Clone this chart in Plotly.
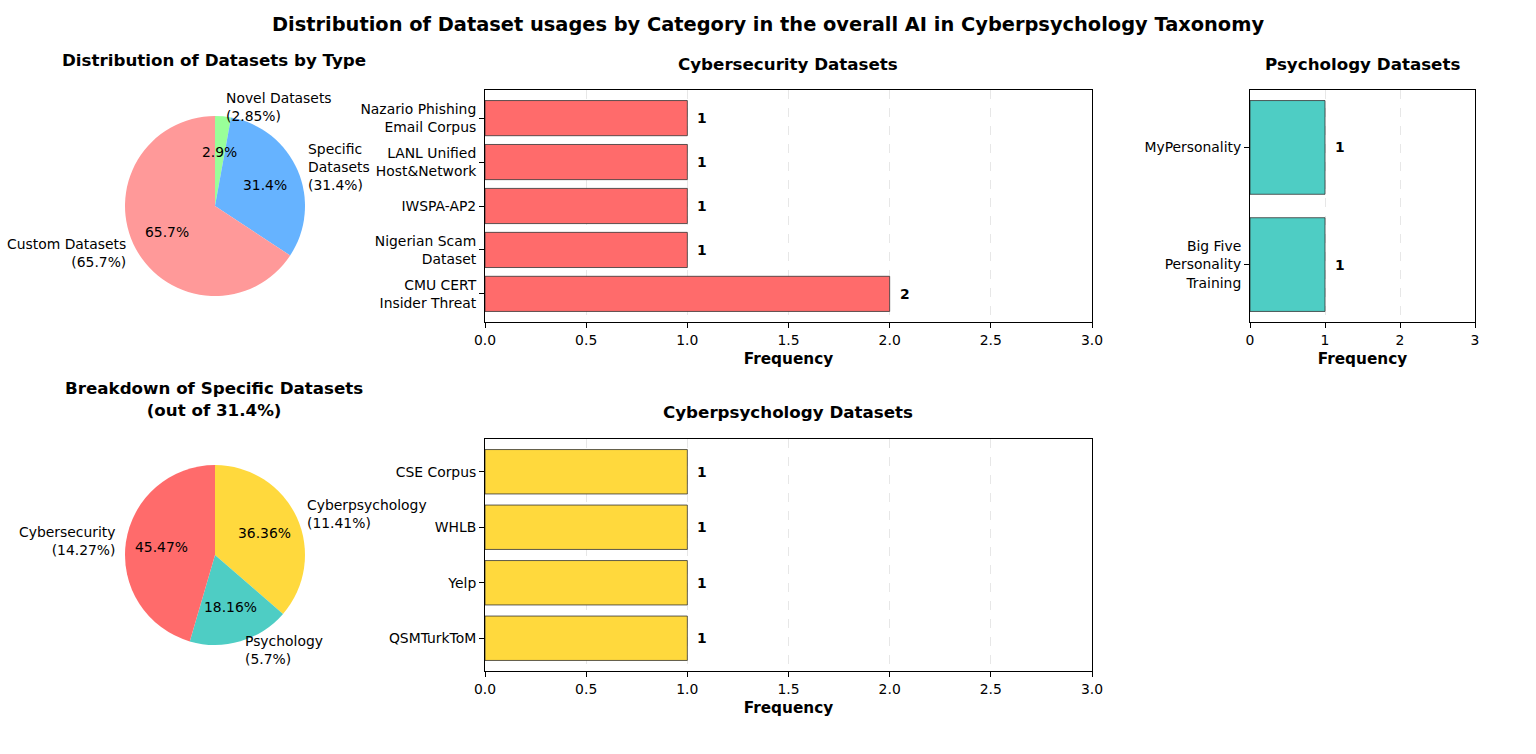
import math
import plotly.graph_objects as go

# ---------------- data ----------------
type_labels = ["Custom Datasets", "Specific Datasets", "Novel Datasets"]
type_values = [65.7, 31.4, 2.85]
type_label_text = ["Custom Datasets<br>(65.7%)", "Specific<br>Datasets<br>(31.4%)", "Novel Datasets<br>(2.85%)"]
type_colors = ["#ff9999", "#66b3ff", "#99ff99"]

spec_labels = ["Cybersecurity", "Psychology", "Cyberpsychology"]
spec_values = [14.27, 5.7, 11.41]
spec_label_text = ["Cybersecurity<br>(14.27%)", "Psychology<br>(5.7%)", "Cyberpsychology<br>(11.41%)"]
spec_colors = ["#ff6b6b", "#4ecdc4", "#ffd93d"]

cyber_names = ["CMU CERT<br>Insider Threat", "Nigerian Scam<br>Dataset", "IWSPA-AP2",
               "LANL Unified<br>Host&Network", "Nazario Phishing<br>Email Corpus"]
cyber_counts = [2, 1, 1, 1, 1]

psych_names = ["Big Five<br>Personality<br>Training", "MyPersonality"]
psych_counts = [1, 1]

cyberpsych_names = ["QSMTurkToM", "Yelp", "WHLB", "CSE Corpus"]
cyberpsych_counts = [1, 1, 1, 1]

# ---------------- layout constants ----------------
W, H = 1536, 754
FONT = "DejaVu Sans"

def px_x(x):
    return x / W

def px_y(y):
    return 1 - y / H

fig = go.Figure()
annotations = []

def add_pie(labels, values, colors, label_text, cx, cy, r, pct_fmt):
    # matplotlib-style: counter-clockwise from 12 o'clock == clockwise with reversed order
    fig.add_trace(go.Pie(
        labels=labels[::-1], values=values[::-1],
        marker=dict(colors=colors[::-1], line=dict(width=0)),
        sort=False, direction="clockwise", rotation=0,
        textinfo="none", hoverinfo="label+percent", showlegend=False,
        domain=dict(x=[px_x(cx - r), px_x(cx + r)], y=[px_y(cy + r), px_y(cy - r)]),
    ))
    total = sum(values)
    start = 90.0
    for v, lt in zip(values, label_text):
        span = 360.0 * v / total
        mid = math.radians(start + span / 2)
        start += span
        c, s = math.cos(mid), math.sin(mid)
        lx, ly = cx + 1.1 * r * c, cy - 1.1 * r * s
        annotations.append(dict(
            x=px_x(lx), y=px_y(ly), xref="paper", yref="paper", text=lt,
            showarrow=False, xanchor="left" if c > 0 else "right", yanchor="middle",
            align="left" if c > 0 else "right",
            font=dict(family=FONT, size=13.9, color="black")))
        px_, py_ = cx + 0.6 * r * c, cy - 0.6 * r * s
        annotations.append(dict(
            x=px_x(px_), y=px_y(py_), xref="paper", yref="paper",
            text=pct_fmt.format(100.0 * v / total), showarrow=False,
            xanchor="center", yanchor="middle",
            font=dict(family=FONT, size=13.9, color="black")))

add_pie(type_labels, type_values, type_colors, type_label_text, 215, 206, 90, "{:.1f}%")
add_pie(spec_labels, spec_values, spec_colors, spec_label_text, 215, 555, 90, "{:.2f}%")

def add_bars(names, counts, color, axn, xdom, ydom, dtick, tickfmt, yrange):
    xa = "x" if axn == 1 else f"x{axn}"
    ya = "y" if axn == 1 else f"y{axn}"
    fig.add_trace(go.Bar(
        x=counts, y=names, orientation="h", width=0.8,
        marker=dict(color=color, line=dict(color="#333333", width=0.8)),
        xaxis=xa, yaxis=ya, showlegend=False, hoverinfo="x+y"))
    for n, c in zip(names, counts):
        annotations.append(dict(
            x=c, y=n, xref=xa, yref=ya, text=f"<b>{c}</b>", showarrow=False,
            xanchor="left", yanchor="middle", xshift=8,
            font=dict(family=FONT, size=13.9, color="black")))
    axis_common = dict(showline=True, mirror=True, linecolor="black", linewidth=1,
                       ticks="outside", ticklen=5, tickcolor="black", tickwidth=1,
                       tickfont=dict(family=FONT, size=13.9, color="black"),
                       zeroline=False, automargin=False)
    fig.update_layout(**{
        ("xaxis" if axn == 1 else f"xaxis{axn}"): dict(
            domain=xdom, anchor=ya, range=[0, 3], dtick=dtick, tick0=0, tickformat=tickfmt,
            showgrid=True, gridcolor="rgba(176,176,176,0.3)", griddash="dash", gridwidth=1,
            title=dict(text="<b>Frequency</b>", standoff=6,
                       font=dict(family=FONT, size=15.3, color="black")),
            **axis_common),
        ("yaxis" if axn == 1 else f"yaxis{axn}"): dict(
            domain=ydom, anchor=xa, range=yrange, showgrid=False, type="category",
            **axis_common),
    })

add_bars(cyber_names, cyber_counts, "#ff6b6b", 1,
         [px_x(485), px_x(1092)], [px_y(322), px_y(90)], 0.5, ".1f", [-0.64, 4.64])
add_bars(psych_names, psych_counts, "#4ecdc4", 2,
         [px_x(1250), px_x(1475)], [px_y(322), px_y(90)], 1, "d", [-0.49, 1.49])
add_bars(cyberpsych_names, cyberpsych_counts, "#ffd93d", 3,
         [px_x(485), px_x(1092)], [px_y(671), px_y(439)], 0.5, ".1f", [-0.59, 3.59])

titles = [
    ("<b>Distribution of Datasets by Type</b>", 214, 60),
    ("<b>Cybersecurity Datasets</b>", 788, 64),
    ("<b>Psychology Datasets</b>", 1362, 64),
    ("<b>Breakdown of Specific Datasets</b><br><b>(out of 31.4%)</b>", 214, 399),
    ("<b>Cyberpsychology Datasets</b>", 788, 412),
]
for t, x, y in titles:
    annotations.append(dict(x=px_x(x), y=px_y(y), xref="paper", yref="paper", text=t,
                            showarrow=False, xanchor="center", yanchor="middle",
                            font=dict(family=FONT, size=16.7, color="black")))

fig.update_layout(
    width=W, height=H,
    margin=dict(l=0, r=0, t=0, b=0, pad=0, autoexpand=False),
    paper_bgcolor="white", plot_bgcolor="white",
    title=dict(text="<b>Distribution of Dataset usages by Category in the overall AI in Cyberpsychology Taxonomy</b>",
               x=0.5, xanchor="center", y=px_y(24), yanchor="middle",
               font=dict(family=FONT, size=19.4, color="black")),
    annotations=annotations,
    bargap=0.2,
)

fig.write_html("out.html", config={"displayModeBar": False},
               post_script="document.body.style.margin='0px';")
